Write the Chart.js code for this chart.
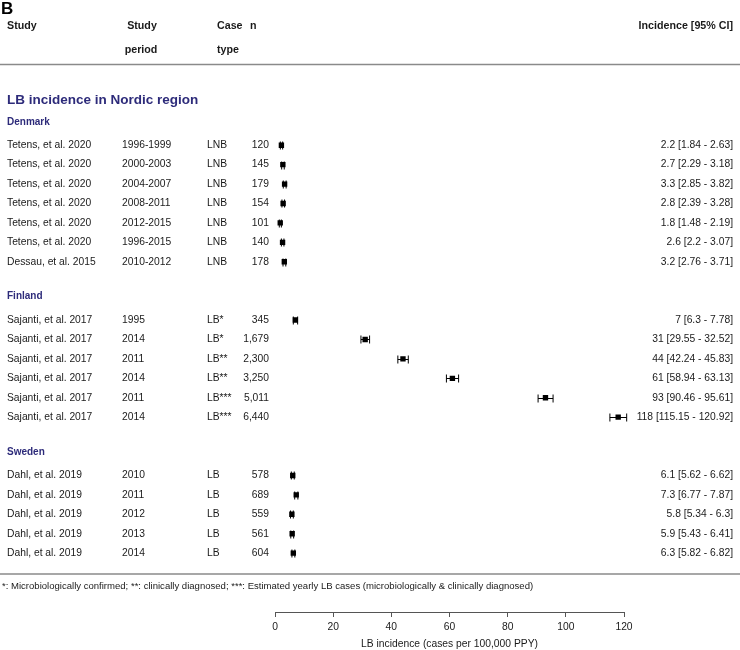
<!DOCTYPE html>
<html><head><meta charset="utf-8">
<script src="https://cdn.jsdelivr.net/npm/chart.js@4"></script>
<style>html,body{margin:0;padding:0;background:#fff}</style>
</head><body>
<canvas id="c" width="740" height="650"></canvas>
<script>
const groups = ['Denmark', 'Finland', 'Sweden'];
const groupOf = [0,0,0,0,0,0,0, 1,1,1,1,1,1, 2,2,2,2,2];
const studies = [
  'Tetens, et al. 2020','Tetens, et al. 2020','Tetens, et al. 2020','Tetens, et al. 2020',
  'Tetens, et al. 2020','Tetens, et al. 2020','Dessau, et al. 2015',
  'Sajanti, et al. 2017','Sajanti, et al. 2017','Sajanti, et al. 2017','Sajanti, et al. 2017',
  'Sajanti, et al. 2017','Sajanti, et al. 2017',
  'Dahl, et al. 2019','Dahl, et al. 2019','Dahl, et al. 2019','Dahl, et al. 2019','Dahl, et al. 2019'
];
const periods = ['1996-1999','2000-2003','2004-2007','2008-2011','2012-2015','1996-2015','2010-2012',
  '1995','2014','2011','2014','2011','2014',
  '2010','2011','2012','2013','2014'];
const caseTypes = ['LNB','LNB','LNB','LNB','LNB','LNB','LNB',
  'LB*','LB*','LB**','LB**','LB***','LB***',
  'LB','LB','LB','LB','LB'];
const nValues = [120,145,179,154,101,140,178, 345,1679,2300,3250,5011,6440, 578,689,559,561,604];
const estimates = [2.2,2.7,3.3,2.8,1.8,2.6,3.2, 7,31,44,61,93,118, 6.1,7.3,5.8,5.9,6.3];
const lowers = [1.84,2.29,2.85,2.39,1.48,2.2,2.76, 6.3,29.55,42.24,58.94,90.46,115.15, 5.62,6.77,5.34,5.43,5.82];
const uppers = [2.63,3.18,3.82,3.28,2.19,3.07,3.71, 7.78,32.52,45.83,63.13,95.61,120.92, 6.62,7.87,6.3,6.41,6.82];
const xTicks = [0,20,40,60,80,100,120];
const panelLabel = 'B';
const sectionTitle = 'LB incidence in Nordic region';
const xTitle = 'LB incidence (cases per 100,000 PPY)';
const footnote = '*: Microbiologically confirmed; **: clinically diagnosed; ***: Estimated yearly LB cases (microbiologically & clinically diagnosed)';

// row layout: group header, rows, gap
const rowIdx = [];
const headerIdx = [];
let idx = -1;
groups.forEach((g, gi) => {
  headerIdx.push(idx); idx++;
  groupOf.forEach((go, i) => { if (go === gi) { rowIdx.push(idx); idx++; } });
  idx++;
});

const FONT = '"Liberation Sans", Arial, Helvetica, sans-serif';
const BLUE = '#2d2b7a';
const TXT = '#1a1a1a';
Chart.defaults.font.family = FONT;

const textPlugin = {
  id: 'forestText',
  beforeDatasetsDraw(chart) {
    const ctx = chart.ctx, x = chart.scales.x, y = chart.scales.y;
    ctx.save();
    ctx.strokeStyle = '#000'; ctx.lineWidth = 1;
    estimates.forEach((e, i) => {
      const yy = Math.round(y.getPixelForValue(rowIdx[i])) + 0.5;
      const x0 = x.getPixelForValue(lowers[i]), x1 = x.getPixelForValue(uppers[i]);
      ctx.beginPath();
      ctx.moveTo(x0, yy); ctx.lineTo(x1, yy);
      ctx.moveTo(x0, yy - 4); ctx.lineTo(x0, yy + 4);
      ctx.moveTo(x1, yy - 4); ctx.lineTo(x1, yy + 4);
      ctx.stroke();
    });
    ctx.restore();
  },
  afterDraw(chart) {
    const ctx = chart.ctx, y = chart.scales.y;
    ctx.save();
    ctx.textBaseline = 'middle';
    // panel label
    ctx.fillStyle = '#000';
    ctx.font = 'bold 17px ' + FONT;
    ctx.textAlign = 'left';
    ctx.fillText(panelLabel, 1, 9);
    // column headers
    ctx.font = 'bold 10.7px ' + FONT;
    ctx.fillStyle = TXT;
    ctx.fillText('Study', 7, 26);
    ctx.textAlign = 'center';
    ctx.fillText('Study', 142, 26);
    ctx.fillText('period', 141, 50);
    ctx.textAlign = 'left';
    ctx.fillText('Case', 217, 26);
    ctx.fillText('type', 217, 50);
    ctx.fillText('n', 250, 26);
    ctx.textAlign = 'right';
    ctx.fillText('Incidence [95% CI]', 733, 26);
    // rules
    ctx.strokeStyle = '#8a8a8a'; ctx.lineWidth = 1.5;
    ctx.beginPath(); ctx.moveTo(0, 64.5); ctx.lineTo(740, 64.5); ctx.stroke();
    ctx.beginPath(); ctx.moveTo(0, 574); ctx.lineTo(740, 574); ctx.stroke();
    // section title
    ctx.textAlign = 'left';
    ctx.fillStyle = BLUE;
    ctx.font = 'bold 13.5px ' + FONT;
    ctx.fillText(sectionTitle, 7, y.getPixelForValue(-2.32));
    ctx.font = 'bold 10px ' + FONT;
    groups.forEach((g, gi) => ctx.fillText(g, 7, y.getPixelForValue(headerIdx[gi] - 0.2)));
    // rows
    ctx.font = '10.3px ' + FONT;
    ctx.fillStyle = TXT;
    studies.forEach((s, i) => {
      const yy = y.getPixelForValue(rowIdx[i]);
      ctx.textAlign = 'left';
      ctx.fillText(s, 7, yy);
      ctx.fillText(periods[i], 122, yy);
      ctx.fillText(caseTypes[i], 207, yy);
      ctx.textAlign = 'right';
      ctx.fillText(nValues[i].toLocaleString('en-US'), 269, yy);
      ctx.fillText(`${estimates[i]} [${lowers[i]} - ${uppers[i]}]`, 733, yy);
    });
    // footnote
    ctx.textAlign = 'left';
    ctx.font = '9.55px ' + FONT;
    ctx.fillText(footnote, 2, 586);
    ctx.restore();
  }
};

new Chart(document.getElementById('c'), {
  type: 'scatter',
  data: {
    datasets: [{
      data: estimates.map((e, i) => ({ x: e, y: rowIdx[i] })),
      pointStyle: 'rect',
      pointRadius: 3.8,
      pointHoverRadius: 3.8,
      backgroundColor: '#000',
      borderColor: '#000',
      borderWidth: 0
    }]
  },
  options: {
    responsive: false,
    animation: false,
    events: [],
    layout: { padding: { left: 275, right: 116, top: 0, bottom: 0 } },
    plugins: { legend: { display: false }, tooltip: { enabled: false } },
    scales: {
      x: {
        type: 'linear', min: 0, max: 120, position: 'bottom',
        afterBuildTicks: s => { s.ticks = xTicks.map(v => ({ value: v })); },
        ticks: { color: TXT, font: { size: 10.3 }, padding: 4, maxRotation: 0, autoSkip: false },
        grid: { drawOnChartArea: false, drawTicks: true, tickLength: 5, color: '#555', lineWidth: 1 },
        border: { display: true, color: '#555', width: 1 },
        title: { display: true, text: xTitle, color: TXT, font: { size: 10.3 }, padding: { top: 2, bottom: 0 } },
        afterFit: s => { s.height = 38; }
      },
      y: {
        type: 'linear', display: false, reverse: true, min: -7.28, max: 24.03
      }
    }
  },
  plugins: [textPlugin]
});
</script>
</body></html>
